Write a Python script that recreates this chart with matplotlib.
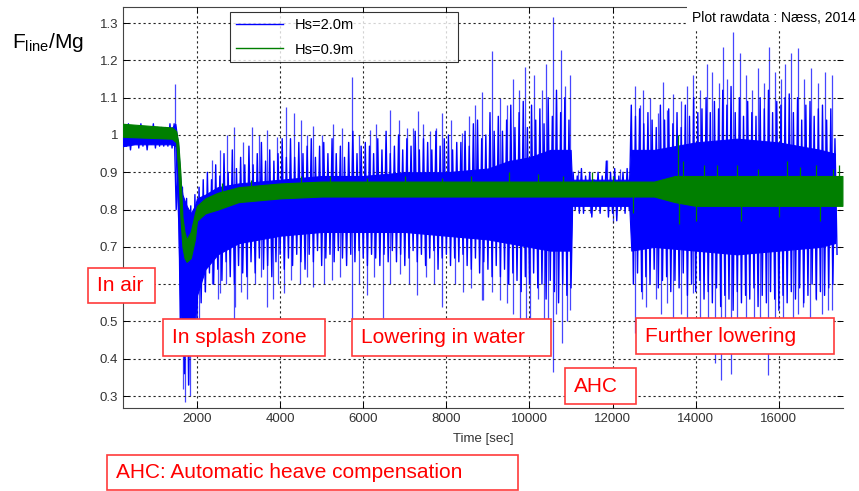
import numpy as np
import matplotlib
matplotlib.use("Agg")
import matplotlib.pyplot as plt
from matplotlib.patches import Rectangle

plt.rcParams['font.family'] = ['Liberation Sans', 'DejaVu Sans']
plt.rcParams['mathtext.fontset'] = 'custom'
plt.rcParams['mathtext.rm'] = 'Liberation Sans'

# dense core of each record
t_env = [220, 500, 1000, 1400, 1480, 1550, 1600, 1650, 1750, 1850, 1950, 2000,
         2200, 2500, 3000, 4000, 5000, 6000, 7000, 8000, 9000, 9500, 10000,
         10500, 10990, 11020, 11500, 12000, 12400, 12450, 13000, 14000, 15000,
         16000, 17000, 17350]
blue_hi = [1.02, 1.02, 1.02, 1.02, 1.03, 0.97, 0.88, 0.84, 0.81, 0.79, 0.81, 0.83,
           0.84, 0.86, 0.87, 0.88, 0.89, 0.89, 0.90, 0.90, 0.91, 0.93, 0.94,
           0.96, 0.96, 0.88, 0.88, 0.88, 0.88, 0.96, 0.96, 0.98, 0.99,
           0.98, 0.96, 0.95]
blue_lo = [0.97, 0.975, 0.975, 0.975, 0.97, 0.76, 0.52, 0.47, 0.42, 0.44, 0.50, 0.57,
           0.64, 0.68, 0.71, 0.73, 0.74, 0.74, 0.74, 0.73, 0.72, 0.71, 0.70,
           0.69, 0.69, 0.81, 0.81, 0.81, 0.81, 0.69, 0.70, 0.69, 0.68,
           0.69, 0.70, 0.71]

# band of the Hs=2.0m record every 100 s: top value, then bottom value 50 s later
t_peak = np.arange(250, 17351, 100)
peak_hi = [1.02, 1.03, 1.01, 1.02, 1.03, 1.02, 1.01, 1.03, 1.02, 1.02,
           1.02, 1.03, 1.03, 0.95, 0.86, 0.83, 0.81, 0.84, 0.86, 0.88,
           0.90, 0.88, 0.92, 0.89, 0.95, 0.90, 0.96, 0.91, 0.94, 0.92,
           0.97, 0.92, 0.95, 0.98, 0.93, 0.96, 0.93, 0.95, 0.99, 0.94,
           0.99, 0.94, 0.98, 0.95, 0.97, 0.99, 0.94, 0.97, 0.98, 0.95,
           0.99, 0.95, 0.97, 0.94, 0.98, 1.01, 0.95, 0.97, 0.98, 0.97,
           0.95, 0.99, 0.96, 1.01, 0.95, 0.97, 1.00, 0.96, 0.99, 0.97,
           1.01, 0.96, 0.99, 0.98, 0.96, 1.01, 0.97, 0.99, 1.00, 0.96,
           0.98, 0.98, 1.01, 0.97, 1.03, 1.04, 0.99, 1.00, 1.06, 1.01,
           1.05, 1.01, 1.04, 1.08, 1.02, 1.06, 1.09, 1.02, 1.08, 1.04,
           1.07, 1.03, 1.10, 1.05, 1.12, 1.06, 1.10, 1.04, 0.90, 0.89,
           0.91, 0.89, 0.90, 0.88, 0.90, 0.89, 0.93, 0.90, 0.91, 0.89,
           0.90, 0.91, 1.08, 1.05, 1.07, 1.03, 1.06, 1.04, 1.02, 1.08,
           1.04, 1.07, 1.03, 1.06, 1.02, 1.08, 1.05, 1.10, 1.06, 1.07,
           1.10, 1.06, 1.09, 1.07, 1.12, 1.08, 1.13, 1.06, 1.10, 1.05,
           1.09, 1.06, 1.05, 1.10, 1.07, 1.12, 1.06, 1.09, 1.08, 1.10,
           1.11, 1.06, 1.10, 1.04, 1.08, 1.09, 1.05, 1.07, 1.08, 1.04,
           1.07, 0.99]
peak_lo = [0.97, 0.96, 0.975, 0.965, 0.97, 0.96, 0.975, 0.965, 0.97, 0.97,
           0.97, 0.965, 0.80, 0.48, 0.36, 0.33, 0.42, 0.50, 0.55, 0.58,
           0.63, 0.60, 0.64, 0.61, 0.66, 0.62, 0.60, 0.65, 0.63, 0.62,
           0.66, 0.63, 0.67, 0.64, 0.65, 0.62, 0.66, 0.68, 0.64, 0.67,
           0.65, 0.68, 0.66, 0.64, 0.68, 0.66, 0.69, 0.65, 0.67, 0.68,
           0.66, 0.69, 0.67, 0.65, 0.68, 0.66, 0.69, 0.67, 0.65, 0.68,
           0.67, 0.65, 0.68, 0.66, 0.69, 0.66, 0.68, 0.65, 0.67, 0.69,
           0.66, 0.68, 0.65, 0.67, 0.69, 0.64, 0.67, 0.68, 0.65, 0.67,
           0.66, 0.68, 0.65, 0.64, 0.67, 0.63, 0.66, 0.64, 0.62, 0.65,
           0.62, 0.64, 0.60, 0.63, 0.61, 0.58, 0.62, 0.60, 0.63, 0.59,
           0.60, 0.56, 0.61, 0.58, 0.55, 0.60, 0.57, 0.59, 0.80, 0.79,
           0.79, 0.81, 0.78, 0.80, 0.79, 0.81, 0.78, 0.79, 0.77, 0.80,
           0.79, 0.80, 0.60, 0.63, 0.58, 0.62, 0.60, 0.64, 0.59, 0.61,
           0.62, 0.58, 0.61, 0.59, 0.63, 0.57, 0.60, 0.58, 0.61, 0.56,
           0.58, 0.55, 0.59, 0.54, 0.57, 0.56, 0.53, 0.58, 0.55, 0.57,
           0.56, 0.59, 0.54, 0.57, 0.55, 0.58, 0.56, 0.53, 0.57, 0.55,
           0.58, 0.56, 0.59, 0.55, 0.57, 0.60, 0.56, 0.58, 0.57, 0.59,
           0.60, 0.68]

t_green = [220, 1400, 1500, 1550, 1600, 1650, 1700, 1750, 1850, 1950, 2000, 2200,
           2500, 3000, 4000, 5000, 9000, 13000, 13500, 14000, 17530]
green_hi = [1.03, 1.02, 1.01, 0.98, 0.90, 0.78, 0.74, 0.72, 0.74, 0.79, 0.81, 0.83,
            0.845, 0.86, 0.87, 0.875, 0.875, 0.875, 0.89, 0.89, 0.89]
green_lo = [0.995, 0.99, 0.98, 0.90, 0.78, 0.70, 0.67, 0.66, 0.67, 0.72, 0.77, 0.79,
            0.80, 0.82, 0.83, 0.835, 0.835, 0.835, 0.82, 0.81, 0.81]

# single peaks sticking out of the band
blue_up_t = [1460, 2360, 2721, 2880, 3322, 3683, 3923, 4147, 4339, 4500,
             4803, 5284, 5725, 6165, 6646, 7046, 7327, 7607, 7888, 8368,
             8849, 9090, 9612, 9892, 10293, 10557, 10750, 10974, 11174, 11855,
             12175, 12536, 12736, 13217, 13298, 13940, 14260, 14645, 14886, 15062,
             15758, 16304, 16464, 16784, 17280,
             9300, 9450, 9750, 10100, 10400, 10650, 10850, 12650, 12900, 13100,
             13450, 13650, 13800, 14100, 14400, 14550, 14750, 15200, 15350, 15500,
             15650, 15900, 16050, 16150, 16600, 16950, 17100, 2550, 3100, 3500,
             4650, 5000, 5500, 5900, 6300, 6850, 7200, 7450, 7750, 8100,
             8550, 8700]
blue_up_v = [1.136, 0.933, 1.0, 1.022, 1.022, 1.013, 0.995, 1.076, 1.058, 1.04,
             1.025, 1.03, 1.156, 1.013, 1.067, 1.02, 1.064, 1.01, 1.06, 1.005,
             1.116, 1.226, 1.15, 1.183, 1.12, 1.315, 1.228, 1.16, 0.906, 0.933,
             0.91, 1.13, 1.12, 1.143, 1.067, 1.16, 1.19, 1.236, 1.277, 1.22,
             1.237, 1.22, 1.234, 1.18, 1.16,
             1.10, 1.08, 1.12, 1.16, 1.19, 1.10, 1.13, 1.08, 1.10, 1.06,
             1.11, 1.09, 1.13, 1.12, 1.17, 1.14, 1.15, 1.16, 1.12, 1.18,
             1.14, 1.17, 1.15, 1.19, 1.15, 1.14, 1.17, 0.96, 0.98, 1.0,
             1.0, 1.0, 1.02, 1.0, 1.03, 1.04, 1.02, 1.03, 1.02, 1.04,
             1.05, 1.08]
blue_dn_t = [1663, 1719, 1780, 1839, 2040, 2513, 2560, 2880, 2921, 3200,
             3683, 3827, 4083, 4484, 4803, 5244, 5725, 6085, 6471, 6887,
             7287, 7888, 8408, 8849, 8891, 9292, 9772, 9909, 10012, 10573,
             10774, 10975, 11454, 12015, 12537, 12696, 13176, 13458, 13939, 14460,
             14620, 14860, 15221, 15741, 16342, 16582, 16903, 17183, 17273,
             2200, 2350, 2700, 3050, 3400, 3550, 3950, 4250, 4650, 5050,
             5450, 5900, 6250, 6650, 7100, 7500, 7700, 8200, 8600, 9100,
             9450, 9600, 10200, 10350, 10450, 10650, 10900, 12800, 13050, 13300,
             13650, 13800, 14100, 14300, 14700, 15000, 15400, 15550, 15900, 16100,
             16450, 16750, 17050]
blue_dn_v = [0.32, 0.285, 0.33, 0.30, 0.50, 0.56, 0.576, 0.50, 0.54, 0.56,
             0.54, 0.56, 0.576, 0.60, 0.593, 0.61, 0.504, 0.57, 0.51, 0.626,
             0.57, 0.54, 0.58, 0.557, 0.557, 0.557, 0.50, 0.50, 0.51, 0.365,
             0.441, 0.53, 0.79, 0.764, 0.47, 0.56, 0.52, 0.50, 0.576, 0.39,
             0.343, 0.36, 0.432, 0.356, 0.50, 0.54, 0.557, 0.53, 0.53,
             0.58, 0.60, 0.60, 0.58, 0.60, 0.62, 0.60, 0.61, 0.62, 0.60,
             0.62, 0.60, 0.62, 0.60, 0.60, 0.62, 0.60, 0.60, 0.59, 0.58,
             0.55, 0.52, 0.56, 0.50, 0.47, 0.52, 0.50, 0.54, 0.56, 0.55,
             0.52, 0.50, 0.48, 0.45, 0.45, 0.47, 0.50, 0.46, 0.48, 0.45,
             0.52, 0.50, 0.52]

green_sp_t = [13570, 13700, 14200, 15000, 16200, 16900, 17450, 9500, 11500, 4500,
              13600, 14000, 15100, 16000, 17000, 12500, 2600, 3300, 5200, 6100,
              7000, 7900, 8600, 10200, 10800, 12000, 14500, 15500, 16500, 17300]
green_sp_v = [1.0, 0.93, 0.92, 0.92, 0.93, 0.92, 0.92, 0.90, 0.90, 0.89,
              0.76, 0.77, 0.77, 0.78, 0.77, 0.79, 0.87, 0.88, 0.89, 0.885,
              0.89, 0.885, 0.89, 0.895, 0.89, 0.89, 0.92, 0.91, 0.915, 0.91]

xticks = [2000, 4000, 6000, 8000, 10000, 12000, 14000, 16000]
yticks = [0.3, 0.4, 0.5, 0.6, 0.7, 0.8, 0.9, 1.0, 1.1, 1.2, 1.3]
# the 0.6 label sits under the "In air" box in the original
ytick_labels = ['0.3', '0.4', '0.5', '', '0.7', '0.8', '0.9', '1', '1.1', '1.2', '1.3']

blue = '#0000ff'
green = '#007f00'

fig = plt.figure(figsize=(8.59, 4.91), dpi=100)
ax = fig.add_axes([0.1432, 0.169, 0.838, 0.8167])

b_mid = (np.array(blue_hi) + np.array(blue_lo)) / 2
g_mid = (np.array(green_hi) + np.array(green_lo)) / 2
ax.vlines(blue_up_t, np.interp(blue_up_t, t_env, b_mid), blue_up_v,
          color='#4646ff', lw=0.9, zorder=2)
ax.vlines(blue_dn_t, np.interp(blue_dn_t, t_env, b_mid), blue_dn_v,
          color='#4646ff', lw=0.9, zorder=2)
zig_t = np.column_stack([t_peak, t_peak + 50]).ravel()
zig_v = np.column_stack([peak_hi, peak_lo]).ravel()
ax.plot(zig_t, zig_v, color=blue, lw=1.0, zorder=3)
ax.fill_between(t_env, blue_lo, blue_hi, color=blue, lw=0.8, zorder=3)
ax.fill_between(t_green, green_lo, green_hi, color=green, lw=0.8, zorder=4)
ax.vlines(green_sp_t, np.interp(green_sp_t, t_green, g_mid), green_sp_v,
          color=green, lw=0.9, zorder=4)

# legend handles
ax.plot([], [], color=blue, lw=1, label='Hs=2.0m')
ax.plot([], [], color=green, lw=1, label='Hs=0.9m')
leg = ax.legend(loc='upper left', bbox_to_anchor=(0.149, 0.84, 0.317, 0.148),
                mode='expand', fontsize=10.5, frameon=True, fancybox=False,
                handlelength=3.2, labelspacing=0.75, borderaxespad=0)
leg.get_frame().set_edgecolor('black')
leg.get_frame().set_linewidth(0.8)
leg.set_zorder(6)

ax.set_xlim(220, 17540)
ax.set_ylim(0.268, 1.343)
ax.set_xticks(xticks)
ax.set_yticks(yticks)
ax.set_yticklabels(ytick_labels)
ax.tick_params(direction='in', length=4, labelsize=9.5, labelcolor='#333333',
               top=True, right=True, width=0.7)
ax.grid(True, color='#222222', linestyle=(0, (2, 2.5)), lw=0.8)
ax.set_axisbelow(False)
ax.spines['right'].set_visible(False)
for s in ['left', 'bottom', 'top']:
    ax.spines[s].set_linewidth(0.8)
    ax.spines[s].set_color('#444444')
ax.set_xlabel('Time [sec]', fontsize=9.5, color='#333333', labelpad=6)

fig.text(0.014, 0.914, r'F$_{\mathrm{line}}$/Mg', fontsize=15, va='center', ha='left')
fig.text(0.9965, 0.963, 'Plot rawdata : Næss, 2014', fontsize=10, ha='right', va='center',
         bbox=dict(facecolor='white', edgecolor='none', pad=4), zorder=10)

# red captions: (text, box left, box right, box top, box bottom) in pixels
captions = [('In air', 88, 155, 268, 303),
            ('In splash zone', 163, 325, 319, 356),
            ('Lowering in water', 352, 551, 319, 356),
            ('Further lowering', 636, 834, 318, 354),
            ('AHC', 565, 636, 368, 404),
            ('AHC: Automatic heave compensation', 107, 518, 455, 490)]
W, H = 859, 491
for txt, x0, x1, y0, y1 in captions:
    fig.patches.append(Rectangle((x0 / W, 1 - y1 / H), (x1 - x0) / W, (y1 - y0) / H,
                                 transform=fig.transFigure, facecolor='white',
                                 edgecolor='#ff3b3b', lw=1.2, zorder=8))
    fig.text((x0 + 9) / W, 1 - (y0 + y1) / 2 / H, txt, color='#ff0000', fontsize=15,
             ha='left', va='center', zorder=9)

fig.savefig('out.png', dpi=100)
